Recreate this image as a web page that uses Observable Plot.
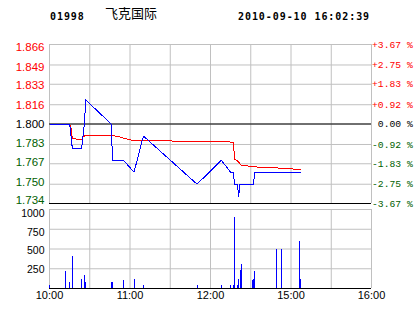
<!DOCTYPE html>
<html><head><meta charset="utf-8">
<script src="https://cdn.jsdelivr.net/npm/d3@7"></script>
<script src="https://cdn.jsdelivr.net/npm/@observablehq/plot@0.6"></script>
<style>
html,body{margin:0;padding:0;background:#fff;}
#wrap{position:relative;width:414px;height:314px;overflow:hidden;background:#fff;}
#wrap svg{position:absolute;left:0;top:0;}
.hdr{position:absolute;white-space:nowrap;line-height:12px;color:#000;}
.mono{font-family:"DejaVu Sans Mono",monospace;font-weight:bold;font-size:10px;letter-spacing:0.93px;}
.cjk{font-family:"Noto Sans CJK SC",sans-serif;font-size:13px;line-height:14px;}
</style></head>
<body><div id="wrap"></div>
<script>
// ---- header texts ----
const stockCode = "01998";
const stockName = "飞克国际";
const stamp = "2010-09-10 16:02:39";

// ---- axis ticks ----
const prevClose = 1.80;
const priceTicks = [1.866, 1.849, 1.833, 1.816, 1.800, 1.783, 1.767, 1.750, 1.734];
const priceTickLabels = ["1.866", "1.849", "1.833", "1.816", "1.800", "1.783", "1.767", "1.750", "1.734"];
const pctTickLabels = ["+3.67 %", "+2.75 %", "+1.83 %", "+0.92 %", " 0.00 %", "-0.92 %", "-1.83 %", "-2.75 %", "-3.67 %"];
const volTicks = [1000, 750, 500, 250];
const timeTicks = ["10:00", "11:00", "12:00", "15:00", "16:00"];

// ---- price series (blue) ----
const priceTimes = ["10:00","10:15","10:16","10:17","10:24","10:25","10:26","10:27","10:46","10:47","10:55","11:03","11:10","11:50","12:08","12:15","12:17","12:18","12:20","12:21","12:22","14:32","14:33","15:07"];
const priceValues = [1.80,1.80,1.79,1.78,1.78,1.79,1.80,1.82,1.80,1.77,1.77,1.76,1.79,1.75,1.77,1.76,1.76,1.75,1.75,1.74,1.75,1.75,1.76,1.76];

// ---- average price series (red) ----
const avgTimes = ["10:00","10:15","10:16","10:17","10:21","10:24","10:25","10:27","10:47","10:52","10:58","11:02","11:31","11:32","12:12","12:17","12:18","12:20","12:23","14:33","14:50","15:07"];
const avgValues = [1.800,1.800,1.797,1.788,1.7874,1.7871,1.7893,1.7907,1.7905,1.7893,1.7874,1.7863,1.786,1.7855,1.7855,1.7846,1.7708,1.7694,1.7658,1.7644,1.7635,1.7622];

// ---- volume bars ----
const volTimes = ["10:00","10:12","10:15","10:17","10:24","10:26","10:27","10:46","10:47","10:55","11:03","11:10","11:50","12:08","12:15","12:17","12:18","12:20","12:21","12:22","12:23","14:31","14:32","14:33","14:49","14:53","15:06","15:07"];
const volValues = [40,220,70,410,120,160,70,80,70,105,120,40,40,40,40,40,900,40,120,230,310,105,120,220,500,500,600,120];

// trading-minute index (lunch break 12:30-14:30 removed)
function tmin(s){const [h,m]=s.split(":").map(Number);const t=h*60+m;return t<=750?t-600:t-720;}

const priceData = priceTimes.map((t,i)=>({t:tmin(t),v:priceValues[i]}));
const avgData = avgTimes.map((t,i)=>({t:tmin(t),v:avgValues[i]}));
const volData = volTimes.map((t,i)=>({t:tmin(t),v:volValues[i]}));
const gridX = d3.range(0,241,30);

const RED="#ff0000", GREEN="#006000", GRID="#c0c0c0", BLUE="#0000ff";
const labelColor = i => i<4 ? RED : (i===4 ? "#000" : GREEN);
const W=414, H=314;
const sans = "'Liberation Sans', Arial, sans-serif";
const mono = "'Liberation Mono', 'Courier New', monospace";

const priceChart = Plot.plot({
  width:W, height:H,
  marginLeft:49, marginRight:43, marginTop:44, marginBottom:111,
  x:{domain:[0,240], axis:null},
  y:{domain:[1.734,1.866], axis:null},
  style:{background:"transparent", overflow:"visible"},
  marks:[
    Plot.ruleY(priceTicks, {stroke:GRID, strokeWidth:1}),
    Plot.ruleX(gridX, {stroke:GRID, strokeWidth:1}),
    Plot.ruleY([prevClose, priceTicks[priceTicks.length-1]], {stroke:"#000", strokeWidth:1}),
    Plot.line(avgData, {x:"t", y:"v", stroke:RED, strokeWidth:1, shapeRendering:"crispEdges"}),
    Plot.line(priceData, {x:"t", y:"v", stroke:BLUE, strokeWidth:1, shapeRendering:"crispEdges"}),
    ...priceTicks.map((p,i)=>Plot.text([p], {y:d=>d, text:()=>priceTickLabels[i], frameAnchor:"left", textAnchor:"end", dx:-5, dy:3-i*0.75, fill:labelColor(i), fontFamily:sans, fontSize:11.5})),
    ...priceTicks.map((p,i)=>Plot.text([p], {y:d=>d, text:()=>pctTickLabels[i], frameAnchor:"right", textAnchor:"start", dx:0.5, dy:0, fill:labelColor(i), fontFamily:mono, fontSize:9.7}))
  ]
});

const volChart = Plot.plot({
  width:W, height:H,
  marginLeft:49, marginRight:43, marginTop:209, marginBottom:26,
  x:{domain:[0,240], axis:null},
  y:{domain:[0,1000], axis:null},
  style:{background:"transparent", overflow:"visible"},
  marks:[
    Plot.ruleY([...volTicks, 0], {stroke:GRID, strokeWidth:1}),
    Plot.ruleX(gridX, {stroke:GRID, strokeWidth:1}),
    Plot.ruleY([0], {stroke:"#000", strokeWidth:1}),
    Plot.ruleX(volData, {x:"t", y1:0, y2:"v", stroke:BLUE, strokeWidth:1, shapeRendering:"crispEdges"}),
    ...volTicks.map((v,i)=>Plot.text([v], {y:d=>d, text:d=>String(d), frameAnchor:"left", textAnchor:"end", dx:-5, dy:[4,3,2,0.5][i], fill:"#000", fontFamily:sans, fontSize:10.5})),
    Plot.text(timeTicks, {x:d=>tmin(d), text:d=>d, frameAnchor:"bottom", dy:10, fill:"#000", fontFamily:sans, fontSize:11})
  ]
});

const wrap = document.getElementById("wrap");
wrap.appendChild(volChart);
wrap.appendChild(priceChart);

function addHdr(txt, cls, left, top){
  const d=document.createElement("div");
  d.className="hdr "+cls; d.textContent=txt;
  d.style.left=left+"px"; d.style.top=top+"px";
  wrap.appendChild(d);
}
addHdr(stockCode, "mono", 50, 11);
addHdr(stockName, "cjk", 105, 6);
addHdr(stamp, "mono", 238, 11);
</script>
</body></html>
